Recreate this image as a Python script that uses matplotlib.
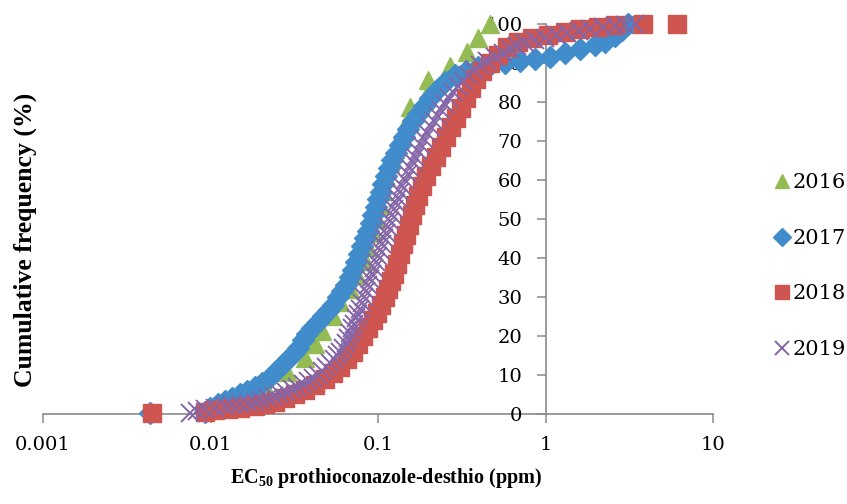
import matplotlib
matplotlib.use("Agg")
import matplotlib.pyplot as plt
from matplotlib.ticker import NullLocator

# EC50 (ppm) and cumulative frequency (%) per year
years = ["2016", "2017", "2018", "2019"]

ec50_2016 = [0.0165, 0.0212, 0.0286, 0.0367, 0.0421, 0.0463, 0.0539, 0.0593, 0.0680, 0.0749,
             0.0836, 0.0872, 0.0934, 0.0986, 0.1028, 0.1071, 0.1116, 0.1179, 0.1263, 0.1353,
             0.1490, 0.1552, 0.1961, 0.1988, 0.2691, 0.3399, 0.395, 0.466]
freq_2016 = [3.6, 7.1, 10.7, 14.3, 17.9, 21.4, 25.0, 28.6, 32.1, 35.7,
             39.3, 42.9, 46.4, 50.0, 53.6, 57.1, 60.7, 64.3, 67.9, 71.4,
             75.0, 78.6, 82.1, 85.7, 89.3, 92.9, 96.4, 100.0]

ec50_2017 = [0.00436, 0.00927, 0.00993, 0.0111, 0.0122, 0.0134, 0.0150, 0.0165, 0.0184, 0.0203,
             0.0227, 0.0246, 0.0267, 0.0290, 0.0311, 0.0333, 0.0357, 0.0377, 0.0404, 0.0438,
             0.0469, 0.0503, 0.0539, 0.0577, 0.0610, 0.0644, 0.0680, 0.0709, 0.0739, 0.0770,
             0.0803, 0.0836, 0.0872, 0.0908, 0.0934, 0.0973, 0.100, 0.1042, 0.1071, 0.1116,
             0.1163, 0.1212, 0.1281, 0.1353, 0.1429, 0.151, 0.1618, 0.1733, 0.1882, 0.2044,
             0.225, 0.251, 0.288, 0.335, 0.395, 0.466, 0.573, 0.704, 0.866, 1.064,
             1.307, 1.607, 1.975, 2.266, 2.599, 2.862, 3.108]
freq_2017 = [0.3, 0.6, 1.5, 2.5, 3.3, 4.2, 5, 6, 7, 8,
             9.5, 11, 12.5, 14, 15.5, 17, 19, 20.5, 22, 23.5,
             25, 26.5, 28, 30, 31.5, 33, 35, 37, 39, 41,
             43, 45, 47, 49, 51, 53, 55, 57, 59, 61,
             63, 65, 67, 69, 71, 73, 75, 77, 79, 81,
             83, 85, 87, 88, 89, 89.5, 90, 90.5, 91, 91.5,
             92.5, 93.5, 94.5, 95.5, 97, 98.5, 100]

ec50_2018 = [0.00448, 0.00927, 0.01064, 0.01272, 0.0150, 0.0184, 0.02115, 0.02427, 0.02785, 0.03195,
             0.03666, 0.04206, 0.04826, 0.0539, 0.0593, 0.0653, 0.0709, 0.0760, 0.0814, 0.0872,
             0.0934, 0.0986, 0.1042, 0.1101, 0.1147, 0.1196, 0.1246, 0.1299, 0.1353, 0.1410,
             0.1470, 0.1531, 0.1596, 0.1663, 0.1733, 0.1831, 0.1934, 0.2072, 0.2220, 0.2378,
             0.2547, 0.2728, 0.2922, 0.3130, 0.335, 0.3591, 0.3847, 0.4177, 0.466, 0.5205,
             0.589, 0.685, 0.831, 1.035, 1.307, 1.607, 2.058, 2.599, 3.82, 6.10]
freq_2018 = [0.3, 0.5, 1, 1.3, 1.6, 2, 2.5, 3.2, 4, 5,
             6.2, 7.5, 9, 10.5, 12, 14, 16, 18, 20, 22,
             24, 26, 28, 30, 32, 34, 36, 38.5, 41, 43.5,
             46, 48.5, 51, 53.5, 56, 58.5, 61, 63.5, 66, 68.5,
             71, 73.5, 76, 78.5, 81, 83.5, 86, 88, 90, 92,
             94, 95.5, 96.5, 97.3, 98, 98.7, 99.3, 99.7, 100, 100]

ec50_2019 = [0.00754, 0.00831, 0.00927, 0.01064, 0.0122, 0.0135, 0.0150, 0.0167, 0.0184, 0.0201,
             0.02205, 0.0240, 0.0260, 0.0283, 0.03066, 0.0330, 0.0357, 0.0383, 0.0409, 0.0436,
             0.0463, 0.0490, 0.0517, 0.0543, 0.0569, 0.0594, 0.0618, 0.0640, 0.0662, 0.0681,
             0.0700, 0.0720, 0.0739, 0.0760, 0.0781, 0.0803, 0.0825, 0.0848, 0.0872, 0.0896,
             0.0921, 0.0947, 0.0973, 0.1000, 0.1028, 0.1057, 0.1086, 0.1116, 0.1147, 0.1179,
             0.1212, 0.1246, 0.1281, 0.1316, 0.1353, 0.1400, 0.1449, 0.1500, 0.1552, 0.1607,
             0.1663, 0.1733, 0.1806, 0.1882, 0.1961, 0.2058, 0.2160, 0.2266, 0.2378, 0.2510,
             0.2654, 0.2820, 0.3003, 0.3215, 0.3445, 0.3740, 0.4064, 0.4500, 0.4995, 0.5540,
             0.6138, 0.6800, 0.7544, 0.8650, 0.993, 1.160, 1.344, 1.580, 1.844, 2.200,
             2.599, 3.000, 3.421]
freq_2019 = [0.3, 0.8, 1.2, 1.6, 2.0, 2.2, 2.5, 2.9, 3.2, 3.6,
             4.0, 4.5, 5.0, 5.6, 6.3, 7.0, 7.7, 8.5, 9.3, 10.1,
             11.0, 12.0, 13.0, 14.0, 15.0, 16.0, 17.0, 18.2, 19.5, 20.7,
             22.0, 23.2, 24.5, 25.7, 27.0, 28.5, 30.0, 31.5, 33.0, 34.5,
             36.0, 37.5, 39.0, 40.5, 42.0, 43.5, 45.0, 46.5, 48.0, 49.5,
             51.0, 52.5, 54.0, 55.5, 57.0, 58.5, 60.0, 61.5, 63.0, 64.5,
             66.0, 67.5, 69.0, 70.5, 72.0, 73.5, 75.0, 76.5, 78.0, 79.5,
             81.0, 82.5, 84.0, 85.5, 87.0, 88.3, 89.5, 90.5, 91.5, 92.5,
             93.5, 94.3, 95.0, 95.8, 96.5, 97.2, 97.8, 98.3, 98.8, 99.2,
             99.5, 99.8, 100]

x_ticks = [0.001, 0.01, 0.1, 1, 10]
x_tick_labels = ["0.001", "0.01", "0.1", "1", "10"]
y_ticks = list(range(0, 101, 10))

plt.rcParams["font.family"] = "DejaVu Serif"
plt.rcParams["mathtext.fontset"] = "custom"
plt.rcParams["mathtext.rm"] = "Liberation Serif:bold"
plt.rcParams["mathtext.bf"] = "Liberation Serif:bold"
plt.rcParams["mathtext.it"] = "Liberation Serif:bold"

green, blue, red, purple = "#95BB55", "#418CCB", "#CE5550", "#8466A8"
axis_grey = "#8a8a8a"

fig = plt.figure(figsize=(8.47, 5.04), dpi=100)
ax = fig.add_axes([0.0508, 0.1786, 0.791, 0.7738])

ax.plot(ec50_2016, freq_2016, ls="none", marker="^", ms=13, color=green, mec=green,
        clip_on=False, label=years[0], zorder=3)
ax.plot(ec50_2017, freq_2017, ls="none", marker="D", ms=11, color=blue, mec=blue,
        clip_on=False, label=years[1], zorder=4)
ax.plot(ec50_2018, freq_2018, ls="none", marker="s", ms=13, color=red, mec=red,
        clip_on=False, label=years[2], zorder=5)
ax.plot(ec50_2019, freq_2019, ls="none", marker="x", ms=13, mew=1.4, color=purple,
        clip_on=False, label=years[3], zorder=6)

ax.set_xscale("log")
ax.set_xlim(0.001, 10)
ax.set_ylim(0, 100)
ax.set_xticks(x_ticks)
ax.set_xticklabels(x_tick_labels)
ax.xaxis.set_minor_locator(NullLocator())
ax.set_yticks(y_ticks)

ax.spines["left"].set_position(("data", 1))
ax.spines["top"].set_visible(False)
ax.spines["right"].set_visible(False)
for side in ("left", "bottom"):
    ax.spines[side].set_color(axis_grey)
    ax.spines[side].set_linewidth(1.2)
    ax.spines[side].set_zorder(1)

ax.tick_params(axis="both", direction="out", length=6.5, width=1.1, color=axis_grey,
               labelsize=14, labelcolor="black")
ax.tick_params(axis="y", pad=10)
ax.tick_params(axis="x", pad=9)
ax.patch.set_visible(False)

fig.text(0.456, 0.052, r"EC$_{\mathbf{50}}$ prothioconazole-desthio (ppm)", ha="center", va="center",
         fontsize=14.5, fontweight="bold", family="Liberation Serif")
fig.text(0.03, 0.524, "Cumulative frequency (%)", rotation=90, ha="center", va="center",
         fontsize=18.5, fontweight="bold", family="Liberation Serif")

ax.legend(loc="center left", bbox_to_anchor=(0.903, 0.472), bbox_transform=fig.transFigure,
          frameon=False, fontsize=15, handlelength=0.8, handletextpad=0.15,
          labelspacing=1.75, borderaxespad=0, markerscale=0.8)

fig.savefig("out.png", dpi=100)
plt.close(fig)
